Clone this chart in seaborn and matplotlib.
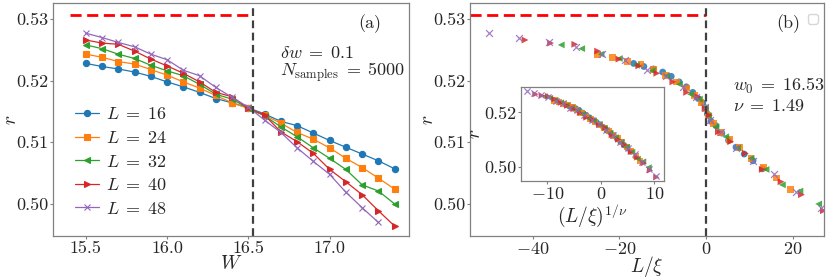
import numpy as np
import pandas as pd
import matplotlib
matplotlib.use("Agg")
import matplotlib.pyplot as plt
import seaborn as sns

# Data
W = [15.5, 15.6, 15.7, 15.8, 15.9, 16.0, 16.1, 16.2, 16.3, 16.4,
     16.5, 16.6, 16.7, 16.8, 16.9, 17.0, 17.1, 17.2, 17.3, 17.4]
r_L16 = [0.5228, 0.5223, 0.5219, 0.5214, 0.5207, 0.5198, 0.5190, 0.5181, 0.5171, 0.5164,
         0.5156, 0.5146, 0.5134, 0.5127, 0.5115, 0.5103, 0.5092, 0.5081, 0.5070, 0.5057]
r_L24 = [0.5243, 0.5238, 0.5231, 0.5227, 0.5218, 0.5209, 0.5198, 0.5188, 0.5176, 0.5164,
         0.5155, 0.5144, 0.5131, 0.5116, 0.5105, 0.5091, 0.5074, 0.5059, 0.5042, 0.5024]
r_L32 = [0.5258, 0.5252, 0.5243, 0.5236, 0.5225, 0.5216, 0.5208, 0.5194, 0.5178, 0.5170,
         0.5155, 0.5143, 0.5125, 0.5109, 0.5091, 0.5074, 0.5056, 0.5031, 0.5021, 0.5000]
r_L40 = [0.5266, 0.5261, 0.5259, 0.5248, 0.5235, 0.5224, 0.5212, 0.5198, 0.5181, 0.5174,
         0.5155, 0.5144, 0.5117, 0.5101, 0.5082, 0.5056, 0.5036, 0.5015, 0.4989, 0.4964]
r_L48 = [0.5277, 0.5270, 0.5262, 0.5255, 0.5243, 0.5234, 0.5217, 0.5208, 0.5189, 0.5173,
         0.5157, 0.5136, 0.5116, 0.5091, 0.5069, 0.5048, 0.5019, 0.4994, 0.4970]
sizes = [16, 24, 32, 40, 48]
series = [r_L16, r_L24, r_L32, r_L40, r_L48]
markers = ["o", "s", "<", ">", "x"]
colors = sns.color_palette("tab10", 5)

w0 = 16.53
nu = 1.49
r_goe = 0.5307

# long table, plus the scaling variables used in panel (b)
rows = []
for L, rs in zip(sizes, series):
    for w, r in zip(W, rs):
        rows.append({"L": L, "W": w, "r": r})
df = pd.DataFrame(rows)
dw = df["W"] - w0
df["Lxi"] = np.sign(dw) * df["L"] * np.abs(dw) ** nu
df["Lxi_nu"] = np.sign(dw) * df["L"] ** (1 / nu) * np.abs(dw)

sns.set_theme(style="white")
plt.rcParams["font.family"] = "serif"
plt.rcParams["font.serif"] = ["cmr10"]
plt.rcParams["mathtext.fontset"] = "cm"
plt.rcParams["axes.formatter.use_mathtext"] = True
plt.rcParams["axes.unicode_minus"] = True

spine_c = "0.5"
text_c = "0.15"
fs = 13


def style_axes(ax, size=fs):
    for s in ax.spines.values():
        s.set_color(spine_c)
        s.set_linewidth(0.9)
    ax.tick_params(direction="out", length=2, width=0.8, color=spine_c,
                   labelsize=size, labelcolor=text_c, pad=1.5,
                   left=True, bottom=True)


fig = plt.figure(figsize=(8.3, 2.79), dpi=100)
ax1 = fig.add_axes([0.0642, 0.1541, 0.4289, 0.834])
ax2 = fig.add_axes([0.5663, 0.1541, 0.4268, 0.834])

# (a) raw curves
for L, m, c in zip(sizes, markers, colors):
    sub = df[df["L"] == L]
    sns.lineplot(data=sub, x="W", y="r", ax=ax1, color=c, marker=m,
                 markersize=4.5, markeredgecolor=c, markeredgewidth=0.8,
                 linewidth=0.9, label=rf"$L\;=\;{L}$")
ax1.hlines(r_goe, 15.4, w0, color="red", lw=2, linestyles=(0, (4, 2)))
ax1.axvline(w0, color="0.25", lw=1.6, ls=(0, (3.5, 2)))
ax1.set_xlim(15.30, 17.49)
ax1.set_ylim(0.4948, 0.53255)
ax1.set_xticks([15.5, 16.0, 16.5, 17.0])
ax1.set_xticklabels(["15.5", "16.0", "16.5", "17.0"])
ax1.set_yticks([0.50, 0.51, 0.52, 0.53])
ax1.set_yticklabels(["0.50", "0.51", "0.52", "0.53"])
ax1.set_xlabel(r"$W$", fontsize=14, color=text_c, labelpad=-1)
ax1.set_ylabel(r"$r$", fontsize=14, color=text_c, labelpad=-3)
style_axes(ax1)
ax1.text(0.889, 0.914, "(a)", transform=ax1.transAxes, ha="center", va="center",
         fontsize=fs, color=text_c)
ax1.text(0.636, 0.785, r"$\delta w\;=\;0.1$", transform=ax1.transAxes, ha="left",
         va="center", fontsize=fs, color=text_c)
ax1.text(0.636, 0.706, r"$N_{\rm samples}\;=\;5000$", transform=ax1.transAxes, ha="left",
         va="center", fontsize=fs, color=text_c)
ax1.legend(loc="center left", bbox_to_anchor=(0.04, 0.32), frameon=False,
           fontsize=fs, handlelength=1.35, handletextpad=0.4, labelspacing=0.42,
           borderaxespad=0, labelcolor=text_c)

# (b) collapse
for L, m, c in zip(sizes, markers, colors):
    sub = df[df["L"] == L]
    kw = dict(linewidth=0.9) if m == "x" else dict(edgecolor="none")
    sns.scatterplot(data=sub, x="Lxi", y="r", ax=ax2, color=c, marker=m,
                    s=24, alpha=0.85, legend=False, **kw)
ax2.hlines(r_goe, -54.5, 0, color="red", lw=2, linestyles=(0, (4, 2)))
ax2.axvline(0, color="0.25", lw=1.6, ls=(0, (3.5, 2)))
ax2.set_xlim(-54.5, 27.3)
ax2.set_ylim(0.4948, 0.53255)
ax2.set_xticks([-40, -20, 0, 20])
ax2.set_yticks([0.50, 0.51, 0.52, 0.53])
ax2.set_yticklabels(["0.50", "0.51", "0.52", "0.53"])
ax2.set_xlabel(r"$L/\xi$", fontsize=14, color=text_c, labelpad=-2)
ax2.set_ylabel(r"$r$", fontsize=14, color=text_c, labelpad=-3)
style_axes(ax2)
ax2.text(0.8975, 0.914, "(b)", transform=ax2.transAxes, ha="center", va="center",
         fontsize=fs, color=text_c)
ax2.text(0.742, 0.645, r"$w_0\;=\;16.53$", transform=ax2.transAxes, ha="left",
         va="center", fontsize=fs, color=text_c)
ax2.text(0.742, 0.559, r"$\nu\;=\;1.49$", transform=ax2.transAxes, ha="left",
         va="center", fontsize=fs, color=text_c)
ax2.legend(handles=[], loc="upper right", bbox_to_anchor=(0.982, 0.955),
           borderaxespad=0, fontsize=9)

# inset
axi = fig.add_axes([0.628, 0.351, 0.1715, 0.336])
for L, m, c in zip(sizes, markers, colors):
    sub = df[df["L"] == L]
    kw = dict(linewidth=0.9) if m == "x" else dict(edgecolor="none")
    sns.scatterplot(data=sub, x="Lxi_nu", y="r", ax=axi, color=c, marker=m,
                    s=20, alpha=0.85, legend=False, **kw)
axi.set_xlim(-14.9, 11.7)
axi.set_ylim(0.495, 0.5291)
axi.set_xticks([-10, 0, 10])
axi.set_yticks([0.50, 0.52])
axi.set_yticklabels(["0.50", "0.52"])
axi.set_xlabel(r"$(L/\xi)^{1/\nu}$", fontsize=14, color=text_c, labelpad=0)
axi.set_ylabel(r"$r$", fontsize=14, color=text_c)
axi.yaxis.set_label_coords(-0.265, 0.5)
style_axes(axi)

fig.savefig("out.png", dpi=100)
